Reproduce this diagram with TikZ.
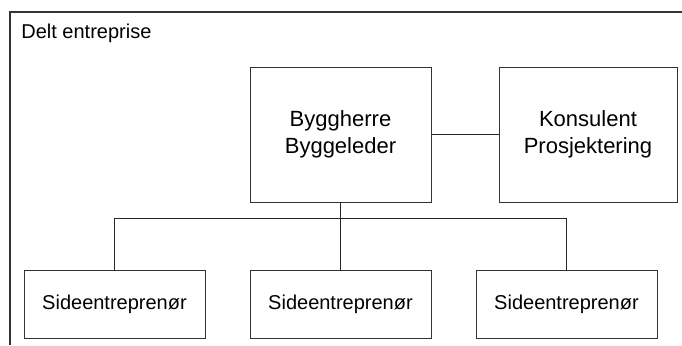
\documentclass[tikz,border=0pt]{standalone}
\usepackage{fontspec}
\setmainfont{Liberation Sans}
\usetikzlibrary{positioning}

\begin{document}
\begin{tikzpicture}[
  x=0.5pt, y=-0.5pt,
  party/.style={rectangle, draw=black!80, line width=0.5pt, minimum width=90.5pt, minimum height=67.5pt, align=center, font=\fontsize{11}{13.5}\selectfont, inner sep=0pt},
  contractor/.style={rectangle, draw=black!80, line width=0.5pt, minimum width=90.5pt, minimum height=34pt, font=\fontsize{10}{12}\selectfont, inner sep=0pt},
  frameline/.style={draw=black!80, line width=0.6pt},
  link/.style={draw=black!85, line width=0.6pt}
]

\useasboundingbox (0,0) rectangle (682,345);

% --- FRAME WITH TITLE ---

\coordinate (corner) at (10,12);
\coordinate (topend) at (682,12);
\coordinate (leftend) at (10,345);
\draw[frameline] (leftend) -- (corner) -- (topend);
\node[anchor=base west, inner sep=0pt, font=\fontsize{10}{12}\selectfont] (title) at (21,38) {Delt entreprise};

% --- CLIENT AND CONSULTANT ---

\node[party] (client) at (340.5,134.5) {Byggherre\\Byggeleder};
\node[party, minimum width=89pt] (consultant) at (588,134.5) {Konsulent\\Prosjektering};

\draw[link] (client.east) -- (consultant.west);

% --- SIDE CONTRACTORS ---

\foreach \i/\x in {1/114.5, 2/340.5, 3/566.5} {
  \node[contractor] (side\i) at (\x,304.5) {Sideentreprenør};
}

% Connect client to the side contractors via a common bus
\coordinate (bus) at (340.5,218.5);
\draw[link] (client.south) -- (side2.north);
\draw[link] (side1.north) |- (bus) -| (side3.north);

\end{tikzpicture}
\end{document}
